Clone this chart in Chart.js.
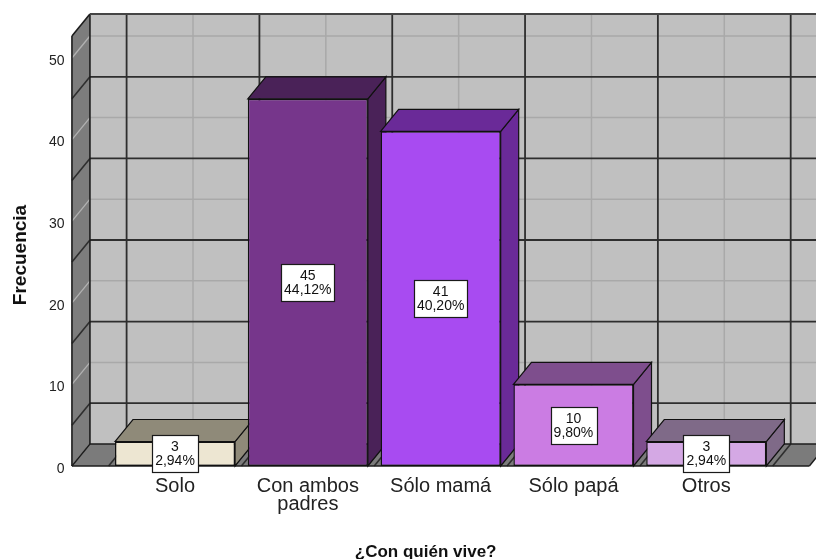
<!DOCTYPE html>
<html>
<head>
<meta charset="utf-8">
<title>¿Con quién vive?</title>
<script src="https://cdn.jsdelivr.net/npm/chart.js@4/dist/chart.umd.min.js"></script>
<style>
  html, body { margin: 0; padding: 0; background: #ffffff; }
  #wrap { width: 816px; height: 559px; }
</style>
</head>
<body>
<div id="wrap"><canvas id="chart" width="816" height="559"></canvas></div>
<script>
// Categories, frequencies and axis ticks
const categories = ['Solo', ['Con ambos', 'padres'], 'Sólo mamá', 'Sólo papá', 'Otros'];
const frequencies = [3, 45, 41, 10, 3];
const yTickValues = [0, 10, 20, 30, 40, 50];
const yAxisTitle = 'Frecuencia';
const xAxisTitle = '¿Con quién vive?';

// Bar colours: front face and the darker top / side faces
const frontColors = ['#ede6d2', '#76368b', '#a84bf1', '#cb7ce3', '#d4a8e4'];
const shadeColors = ['#8f8a79', '#4a2258', '#6a2a98', '#7e4e8d', '#7f6a88'];

const FONT = '"Liberation Sans", Arial, Helvetica, sans-serif';
const total = frequencies.reduce((a, b) => a + b, 0);
const percentText = v => (v / total * 100).toFixed(2).replace('.', ',') + '%';

// 3D frame: back wall, left wall, floor, grid and bar depth faces
const box3d = {
  id: 'box3d',
  geometry(chart, o) {
    const { x, y } = chart.scales;
    const c0 = x.getPixelForValue(0);
    const catW = x.getPixelForValue(1) - c0;
    const b0 = c0 - catW / 2;
    const bN = b0 + categories.length * catW;
    const margin = catW * o.marginRatio;
    return {
      x, y, catW, b0,
      xl: b0 - margin,
      xr: bN + margin,
      y0: y.getPixelForValue(0),
      yt: y.getPixelForValue(o.wallTop)
    };
  },
  line(ctx, x1, y1, x2, y2, color, width) {
    ctx.beginPath();
    ctx.moveTo(x1, y1);
    ctx.lineTo(x2, y2);
    ctx.strokeStyle = color;
    ctx.lineWidth = width;
    ctx.stroke();
  },
  poly(ctx, pts, fill, stroke, width) {
    ctx.beginPath();
    ctx.moveTo(pts[0][0], pts[0][1]);
    for (let i = 1; i < pts.length; i++) ctx.lineTo(pts[i][0], pts[i][1]);
    ctx.closePath();
    if (fill) { ctx.fillStyle = fill; ctx.fill(); }
    if (stroke) { ctx.strokeStyle = stroke; ctx.lineWidth = width; ctx.stroke(); }
  },
  beforeDatasetsDraw(chart, args, o) {
    const ctx = chart.ctx;
    const g = this.geometry(chart, o);
    const { dx, dy } = o;
    const { xl, xr, y0, yt, y, b0, catW } = g;
    const n = categories.length;
    ctx.save();
    ctx.lineCap = 'butt';

    // back wall
    this.poly(ctx, [[xl + dx, yt - dy], [xr + dx, yt - dy], [xr + dx, y0 - dy], [xl + dx, y0 - dy]], o.wallColor);
    // light grid: every 10 and category centres
    for (let v = 10; v <= 50; v += 10) {
      const py = y.getPixelForValue(v) - dy;
      this.line(ctx, xl + dx, py, xr + dx, py, o.lightGrid, 1.5);
    }
    for (let i = 0; i < n; i++) {
      const px = b0 + (i + 0.5) * catW + dx;
      this.line(ctx, px, yt - dy, px, y0 - dy, o.lightGrid, 1.5);
    }
    // dark grid: odd multiples of 5 and category boundaries
    for (let v = 5; v < 50; v += 10) {
      const py = y.getPixelForValue(v) - dy;
      this.line(ctx, xl + dx, py, xr + dx, py, o.darkGrid, 1.8);
    }
    for (let i = 0; i <= n; i++) {
      const px = b0 + i * catW + dx;
      this.line(ctx, px, yt - dy, px, y0 - dy, o.darkGrid, 1.8);
    }

    // left wall
    this.poly(ctx, [[xl, y0], [xl + dx, y0 - dy], [xl + dx, yt - dy], [xl, yt]], o.sideColor);
    for (let v = 0; v <= 50; v += 10) {
      const py = y.getPixelForValue(v);
      this.line(ctx, xl, py, xl + dx, py - dy, o.sideLight, 1.3);
    }
    for (let v = 5; v < 50; v += 10) {
      const py = y.getPixelForValue(v);
      this.line(ctx, xl, py, xl + dx, py - dy, o.darkGrid, 1.6);
    }

    // floor
    this.poly(ctx, [[xl, y0], [xr, y0], [xr + dx, y0 - dy], [xl + dx, y0 - dy]], o.floorColor);
    for (let i = 0; i <= n; i++) {
      const px = b0 + i * catW;
      this.line(ctx, px, y0, px + dx, y0 - dy, o.darkGrid, 1.6);
    }

    // frame edges
    this.line(ctx, xl, yt, xl, y0, o.edge, 1.6);
    this.line(ctx, xl + dx, yt - dy, xl + dx, y0 - dy, o.edge, 1.6);
    this.line(ctx, xl, yt, xl + dx, yt - dy, o.edge, 1.6);
    this.line(ctx, xl + dx, yt - dy, xr + dx, yt - dy, o.topEdge, 2);
    this.line(ctx, xl, y0, xr, y0, o.edge, 1.6);
    this.line(ctx, xl + dx, y0 - dy, xr + dx, y0 - dy, o.edge, 1.4);
    this.line(ctx, xl, y0, xl + dx, y0 - dy, o.edge, 1.4);
    this.line(ctx, xr, y0, xr + dx, y0 - dy, o.edge, 1.4);

    // depth faces of the bars, left to right
    const meta = chart.getDatasetMeta(0);
    meta.data.forEach((bar, i) => {
      const p = bar.getProps(['x', 'y', 'base', 'width'], true);
      const l = p.x - p.width / 2, r = p.x + p.width / 2;
      const top = Math.min(p.y, p.base), bot = Math.max(p.y, p.base);
      this.poly(ctx, [[r, bot], [r + dx, bot - dy], [r + dx, top - dy], [r, top]], shadeColors[i], '#111', 1.2);
      this.poly(ctx, [[l, top], [l + dx, top - dy], [r + dx, top - dy], [r, top]], shadeColors[i], '#111', 1.2);
    });
    ctx.restore();
  },
  afterDatasetsDraw(chart) {
    // value and percentage boxes on each bar
    const ctx = chart.ctx;
    const meta = chart.getDatasetMeta(0);
    ctx.save();
    ctx.font = '14px ' + FONT;
    const lineH = 14.3, padX = 3, padY = 4;
    meta.data.forEach((bar, i) => {
      const p = bar.getProps(['x', 'y', 'base'], true);
      const lines = [String(frequencies[i]), percentText(frequencies[i])];
      const w = Math.max(...lines.map(t => ctx.measureText(t).width)) + padX * 2;
      const h = lines.length * lineH + padY * 2;
      const cx = p.x, cy = (p.y + p.base) / 2;
      const bx = Math.round(cx - w / 2) + 0.5, by = Math.round(cy - h / 2) + 0.5;
      ctx.fillStyle = '#ffffff';
      ctx.fillRect(bx, by, Math.round(w), Math.round(h));
      ctx.strokeStyle = '#1a1a1a';
      ctx.lineWidth = 1.2;
      ctx.strokeRect(bx, by, Math.round(w), Math.round(h));
      ctx.fillStyle = '#111111';
      ctx.textAlign = 'center';
      ctx.textBaseline = 'middle';
      lines.forEach((t, k) => ctx.fillText(t, cx, by + padY + lineH * (k + 0.5) + 0.5));
    });
    ctx.restore();
  },
  afterDraw(chart, args, o) {
    // axis titles
    const ctx = chart.ctx;
    const area = chart.chartArea;
    ctx.save();
    ctx.fillStyle = '#111111';
    ctx.textAlign = 'center';
    ctx.textBaseline = 'alphabetic';
    ctx.font = 'bold 17px ' + FONT;
    ctx.fillText(xAxisTitle, (area.left + area.right) / 2 + o.xTitleShift, o.xTitleBaseline);
    ctx.translate(o.yTitleX, (area.top + area.bottom) / 2 + o.yTitleShift);
    ctx.rotate(-Math.PI / 2);
    ctx.textBaseline = 'middle';
    ctx.font = 'bold 19px ' + FONT;
    ctx.fillText(yAxisTitle, 0, 0);
    ctx.restore();
  }
};

new Chart(document.getElementById('chart'), {
  type: 'bar',
  data: {
    labels: categories,
    datasets: [{
      label: yAxisTitle,
      data: frequencies,
      backgroundColor: frontColors,
      borderColor: '#111111',
      borderWidth: 1.4,
      borderSkipped: false,
      barPercentage: 0.904,
      categoryPercentage: 1.0
    }]
  },
  plugins: [box3d],
  options: {
    responsive: false,
    devicePixelRatio: 1,
    animation: false,
    events: [],
    layout: { padding: { left: 0, top: 58, right: 43.3, bottom: 0 } },
    plugins: {
      legend: { display: false },
      tooltip: { enabled: false },
      title: { display: false },
      box3d: {
        dx: 18, dy: 22, wallTop: 52.7, marginRatio: 0.276,
        wallColor: '#c0c0c0', sideColor: '#7d7d7d', floorColor: '#7b7b7b',
        lightGrid: '#a9a9a9', sideLight: '#b2b2b2', darkGrid: '#2e2e2e',
        edge: '#1c1c1c', topEdge: '#454545',
        xTitleShift: -15, xTitleBaseline: 557, yTitleX: 20.5, yTitleShift: -7
      }
    },
    scales: {
      x: {
        type: 'category',
        offset: true,
        grid: { display: false, drawTicks: false },
        border: { display: false },
        ticks: {
          color: '#222222',
          font: { family: FONT, size: 20, lineHeight: 0.9 },
          padding: 11.5,
          maxRotation: 0,
          autoSkip: false
        },
        afterFit: s => { s.height = 93; }
      },
      y: {
        min: 0,
        max: 50,
        grid: { display: false, drawTicks: false },
        border: { display: false },
        ticks: {
          color: '#222222',
          font: { family: FONT, size: 14 },
          padding: 44,
          labelOffset: 3
        },
        afterBuildTicks: s => { s.ticks = yTickValues.map(v => ({ value: v })); },
        afterFit: s => { s.width = 108.6; }
      }
    }
  }
});
</script>
</body>
</html>
